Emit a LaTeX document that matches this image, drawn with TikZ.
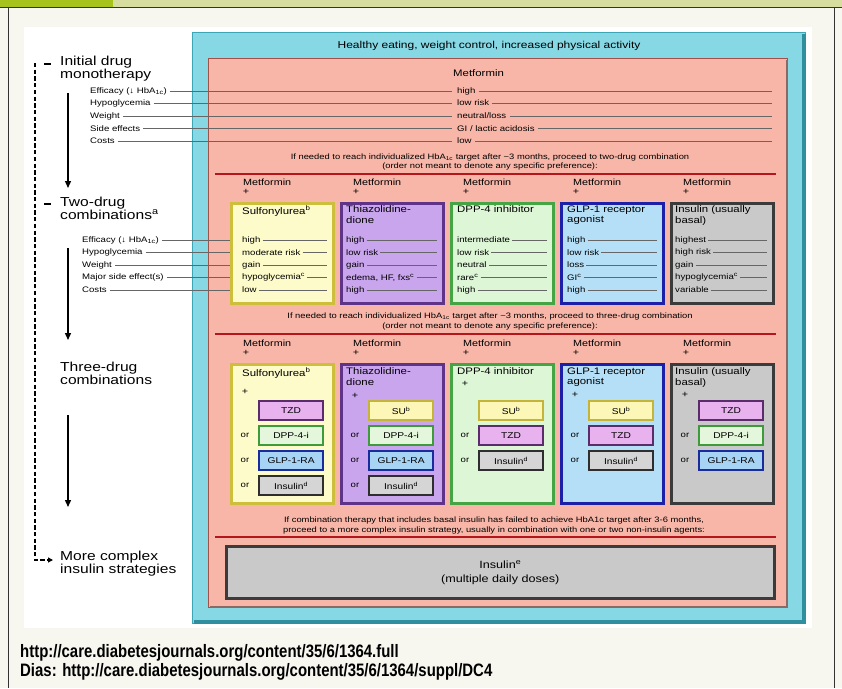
\documentclass[tikz,border=0pt]{standalone}
\usepackage{fontspec}
\setmainfont{Liberation Sans}[FakeStretch=1.2]
\newfontfamily\urlfont{Liberation Sans Bold}[FakeStretch=0.83]
\usetikzlibrary{arrows.meta,calc}
\definecolor{pagebg}{HTML}{F7F6EF}
\definecolor{bargreen}{HTML}{D6DD9E}
\definecolor{bardark}{HTML}{A6C31C}
\definecolor{cyanfill}{HTML}{86D8E5}
\definecolor{cyanedge}{HTML}{3CA6B5}
\definecolor{cyandark}{HTML}{2F8F9E}
\definecolor{salfill}{HTML}{F8B6A8}
\definecolor{saledge}{HTML}{A0524A}
\definecolor{saldark}{HTML}{8A6A64}
\definecolor{redline}{HTML}{B3161B}
\definecolor{yfill}{HTML}{FDFBC9}\definecolor{yedge}{HTML}{CDBF3C}
\definecolor{pfill}{HTML}{C9A5EE}\definecolor{pedge}{HTML}{5E3388}
\definecolor{gfill}{HTML}{DDF6D6}\definecolor{gedge}{HTML}{45A443}
\definecolor{bfill}{HTML}{B5DEF7}\definecolor{bedge}{HTML}{1C1FA8}
\definecolor{kfill}{HTML}{C9C9C9}\definecolor{kedge}{HTML}{3B3B3B}
\definecolor{tzdfill}{HTML}{E7B2EE}\definecolor{tzdedge}{HTML}{5A2C6C}
\definecolor{sufill}{HTML}{FCF7B6}\definecolor{suedge}{HTML}{C4B43A}
\definecolor{dppfill}{HTML}{E4F7DC}\definecolor{dppedge}{HTML}{3E9A3B}
\definecolor{glpfill}{HTML}{A7D3F4}\definecolor{glpedge}{HTML}{1A2B9E}
\definecolor{insfill}{HTML}{D5D5D5}\definecolor{insedge}{HTML}{2E2E2E}
\tikzset{
  rule/.style={draw=black!60, line width=0.5pt},
  bigtxt/.style={font=\fontsize{13}{13}\selectfont, align=left, anchor=north west, inner sep=0pt},
  small/.style={font=\fontsize{8}{9}\selectfont, anchor=west, inner sep=0pt},
  val/.style={font=\fontsize{8}{9}\selectfont, anchor=west, inner sep=0pt},
  sent/.style={font=\fontsize{7.8}{9.5}\selectfont, align=center, inner sep=0pt},
  met/.style={font=\fontsize{9}{10}\selectfont, anchor=west, inner sep=0pt},
  plus/.style={font=\fontsize{9}{10}\selectfont, inner sep=0pt},
  ctitle/.style={font=\fontsize{9.5}{10.5}\selectfont, align=left, anchor=north west, inner sep=0pt},
  colbox/.style 2 args={draw=#2, fill=#1, line width=2.5pt, minimum width=102pt, inner sep=0pt, anchor=north west},
  opt/.style={draw=#1edge, fill=#1fill, line width=2.2pt, minimum width=64pt, minimum height=19pt, inner sep=0pt, anchor=north west, font=\fontsize{8.5}{10}\selectfont},
  ortext/.style={font=\fontsize{8}{9}\selectfont, inner sep=0pt},
  redrule/.style={draw=redline, line width=1.6pt},
  down/.style={line width=1.3pt, -{Triangle[length=7pt,width=6pt]}},
  urltxt/.style={font=\urlfont\fontsize{18}{20}\selectfont, anchor=west, inner sep=0pt},
}
\newcommand\TwoCol[7]{%
  \node[colbox={#4}{#5}, minimum height=100pt] (tb#1) at (#2,202) {};
  \node[ctitle] (tt#1) at ({#2+#3},205.5) {#6};
  \node[met] (tm#1) at ({#2+13},182) {Metformin};
  \node[plus] (tp#1) at ({#2+16},192) {+};
  \foreach \v [count=\j] in {#7} {
    \node[val] (tv#1\j) at ({#2+#3},{227.5+12.5*\j}) {\v};
    \draw[rule, shorten <=2pt, shorten >=8pt] (tv#1\j.east) -- (tb#1.east |- tv#1\j.center);
  }%
}
\newcommand\ThreeCol[8]{%
  \node[colbox={#4}{#5}, minimum height=139pt] (hb#1) at (#2,363) {};
  \node[ctitle] (ht#1) at ({#2+#3},367.5) {#6};
  \node[met] (hm#1) at ({#2+13},343) {Metformin};
  \node[plus] (hp#1) at ({#2+16},353) {+};
  \node[plus] (hq#1) at ({#2+15},#7) {+};
  \foreach \s/\t [count=\k] in {#8} {
    \node[opt=\s] (ho#1\k) at ({#2+28},{400+25*(\k-1)}) {\t};
    \ifnum\k>1 \node[ortext] (hr#1\k) at ({#2+15},{410+25*(\k-1)}) {or};\fi
  }%
}
\begin{document}
\begin{tikzpicture}[x=1pt,y=-1pt]
\useasboundingbox (0,0) rectangle (842,688);
% page
\fill[pagebg] (0,0) rectangle (842,688);
\fill[bargreen] (0,0) rectangle (842,7);
\fill[bardark] (0,0) rectangle (113,7);
\draw[black!80, line width=1pt] (0,7.5) -- (842,7.5);
\draw[black!80, line width=1pt] (8,7.5) -- (8,688);
\draw[black!80, line width=1pt] (834,7.5) -- (834,688);
\fill[white] (24,27) rectangle (812,628);
% cyan outer box
\node[draw=cyanedge, fill=cyanfill, line width=1.2pt, minimum width=613pt, minimum height=591pt, inner sep=0pt, anchor=north west] (cyan) at (192,32) {};
\draw[cyandark, line width=4pt] ($(cyan.north east)+(-2,2)$) -- ($(cyan.south east)+(-2,-2)$) -- ($(cyan.south west)+(2,-2)$);
\node[font=\fontsize{10}{12}\selectfont, inner sep=0pt] (hdr) at (489,46) {Healthy eating, weight control, increased physical activity};
% salmon box
\node[draw=saledge, fill=salfill, line width=1.4pt, minimum width=579pt, minimum height=549pt, inner sep=0pt, anchor=north west] (sal) at (208,58) {};
\draw[saldark, line width=2.5pt] ($(sal.north east)+(-1.5,2)$) -- ($(sal.south east)+(-1.5,-1.5)$) -- ($(sal.south west)+(2,-1.5)$);
% left column
\node[bigtxt] (l1) at (60,55.5) {Initial drug\\monotherapy};
\node[bigtxt] (l2) at (60,196.5) {Two-drug\\combinations\textsuperscript{a}};
\node[bigtxt] (l3) at (60,361.5) {Three-drug\\combinations};
\node[bigtxt] (l4) at (60,551) {More complex\\insulin strategies};
\coordinate (d0) at (35,63);
\coordinate (d1) at (35,560);
\coordinate (d2) at (53,560);
\draw[line width=2pt, dash pattern=on 4.3pt off 2.4pt] (d0) -- (d1) -- ([xshift=-4pt]d2);
\draw[line width=1.2pt, -{Triangle[length=5pt,width=5pt]}] ([xshift=-5pt]d2) -- (d2);
\draw[line width=1.3pt] (44,64) -- (51,64);
\draw[line width=1.3pt] (44,204) -- (51,204);
\coordinate (a1s) at (68,93); \coordinate (a1e) at (68,188);
\coordinate (a2s) at (68,248); \coordinate (a2e) at (68,340);
\coordinate (a3s) at (68,415); \coordinate (a3e) at (68,507);
\draw[down] (a1s) -- (a1e);
\draw[down] (a2s) -- (a2e);
\draw[down] (a3s) -- (a3e);
% monotherapy
\node[font=\fontsize{9.5}{10}\selectfont, anchor=west, inner sep=0pt] (metT) at (453,73) {Metformin};
\coordinate (rend) at (772,0);
\node[small] (m1) at (90,91) {Efficacy (↓ HbA\textsubscript{1c})};
\node[small] (m2) at (90,103) {Hypoglycemia};
\node[small] (m3) at (90,116) {Weight};
\node[small] (m4) at (90,128.5) {Side effects};
\node[small] (m5) at (90,141) {Costs};
\node[val] (mv1) at (457,91) {high};
\node[val] (mv2) at (457,103) {low risk};
\node[val] (mv3) at (457,116) {neutral/loss};
\node[val] (mv4) at (457,128.5) {GI / lactic acidosis};
\node[val] (mv5) at (457,141) {low};
\foreach \j in {1,...,5}{
  \draw[rule, shorten <=3pt, shorten >=5pt] (m\j.east) -- (mv\j.west);
  \draw[rule, shorten <=3pt] (mv\j.east) -- (rend |- mv\j.center);
}
\node[sent] (s1) at (490,162) {If needed to reach individualized HbA\textsubscript{1c} target after \textasciitilde3 months, proceed to two-drug combination\\(order not meant to denote any specific preference):};
\coordinate (r1a) at (215,174); \coordinate (r1b) at (776,174);
\draw[redrule] (r1a) -- (r1b);
% two-drug labels
\node[small] (t1) at (82,240) {Efficacy (↓ HbA\textsubscript{1c})};
\node[small] (t2) at (82,252.5) {Hypoglycemia};
\node[small] (t3) at (82,265) {Weight};
\node[small] (t4) at (82,277.5) {Major side effect(s)};
\node[small] (t5) at (82,290) {Costs};
\coordinate (tend) at (233,0);
\foreach \j in {1,...,5}{
  \draw[rule, shorten <=3pt] (t\j.east) -- (tend |- t\j.center);
}
\TwoCol{0}{230}{12}{yfill}{yedge}{Sulfonylurea\textsuperscript{b}}{high, moderate risk, gain, hypoglycemia\textsuperscript{c}, low}
\TwoCol{1}{340}{6}{pfill}{pedge}{Thiazolidine-\\dione}{high, low risk, gain, {edema, HF, fxs\textsuperscript{c}}, high}
\TwoCol{2}{450}{7}{gfill}{gedge}{DPP-4 inhibitor}{intermediate, low risk, neutral, rare\textsuperscript{c}, high}
\TwoCol{3}{560}{7}{bfill}{bedge}{GLP-1 receptor\\agonist}{high, low risk, loss, GI\textsuperscript{c}, high}
\TwoCol{4}{670}{5}{kfill}{kedge}{Insulin (usually\\basal)}{highest, high risk, gain, hypoglycemia\textsuperscript{c}, variable}
% three-drug
\node[sent] (s2) at (490,321.5) {If needed to reach individualized HbA\textsubscript{1c} target after \textasciitilde3 months, proceed to three-drug combination\\(order not meant to denote any specific preference):};
\coordinate (r2a) at (215,334); \coordinate (r2b) at (776,334);
\draw[redrule] (r2a) -- (r2b);
\ThreeCol{0}{230}{12}{yfill}{yedge}{Sulfonylurea\textsuperscript{b}}{392}{tzd/TZD, dpp/DPP-4-i, glp/GLP-1-RA, ins/Insulin\textsuperscript{d}}
\ThreeCol{1}{340}{6}{pfill}{pedge}{Thiazolidine-\\dione}{396}{su/SU\textsuperscript{b}, dpp/DPP-4-i, glp/GLP-1-RA, ins/Insulin\textsuperscript{d}}
\ThreeCol{2}{450}{7}{gfill}{gedge}{DPP-4 inhibitor}{384}{su/SU\textsuperscript{b}, tzd/TZD, ins/Insulin\textsuperscript{d}}
\ThreeCol{3}{560}{7}{bfill}{bedge}{GLP-1 receptor\\agonist}{395}{su/SU\textsuperscript{b}, tzd/TZD, ins/Insulin\textsuperscript{d}}
\ThreeCol{4}{670}{5}{kfill}{kedge}{Insulin (usually\\basal)}{395}{tzd/TZD, dpp/DPP-4-i, glp/GLP-1-RA}
% complex insulin
\node[sent] (s3) at (494,525.5) {If combination therapy that includes basal insulin has failed to achieve HbA1c target after 3-6 months,\\proceed to a more complex insulin strategy, usually in combination with one or two non-insulin agents:};
\coordinate (r3a) at (215,537); \coordinate (r3b) at (776,537);
\draw[redrule] (r3a) -- (r3b);
\node[draw=kedge, fill=kfill, line width=2.5pt, minimum width=548pt, minimum height=52pt, inner sep=0pt, anchor=north west, font=\fontsize{10.5}{14}\selectfont, align=center] (fin) at (225,545) {Insulin\textsuperscript{e}\\(multiple daily doses)};
% sources
\node[urltxt] (u1) at (20,653) {http://care.diabetesjournals.org/content/35/6/1364.full};
\node[urltxt] (u2) at (20,672) {Dias: http://care.diabetesjournals.org/content/35/6/1364/suppl/DC4};
\end{tikzpicture}
\end{document}
